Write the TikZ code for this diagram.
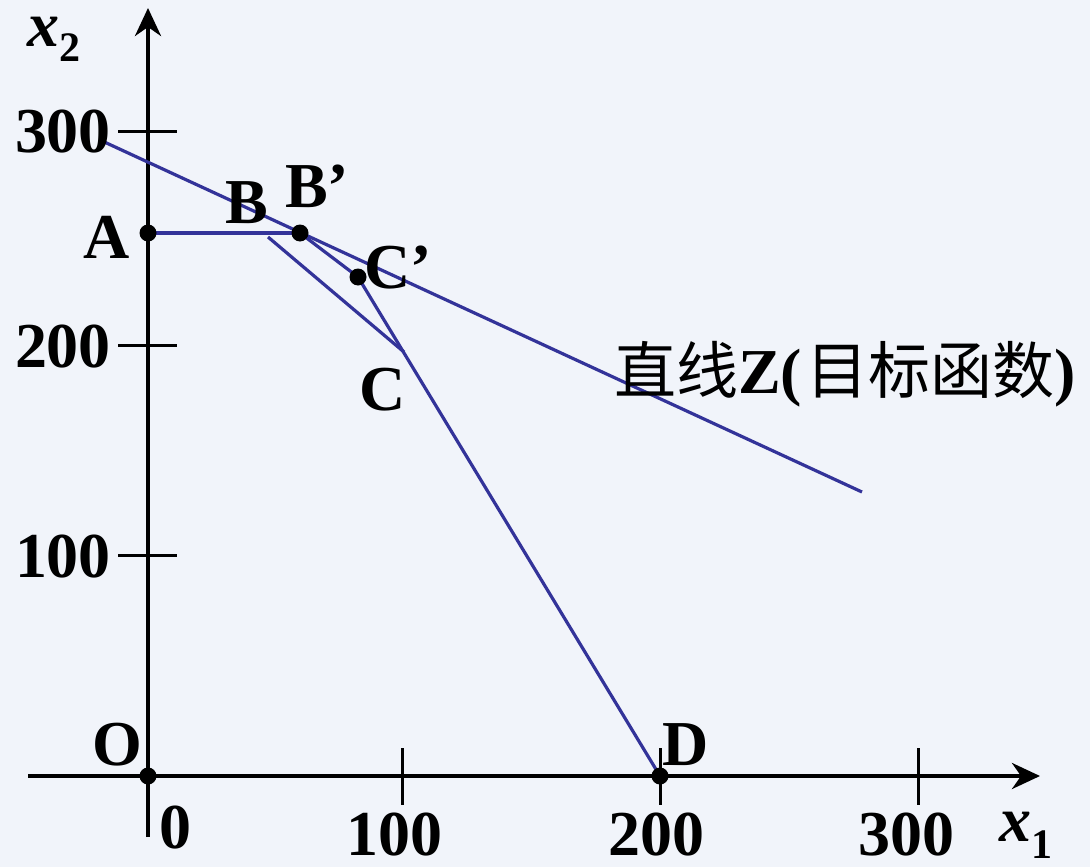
\documentclass[tikz,border=0pt]{standalone}
\usepackage{fontspec}
\setmainfont{Liberation Serif}
\newfontfamily\cjk{Noto Sans CJK SC}
\usetikzlibrary{arrows.meta}
\definecolor{bg}{RGB}{241,244,250}
\definecolor{lineblue}{RGB}{51,51,153}
\begin{document}
\begin{tikzpicture}[x=1pt,y=-1pt,
  lbl/.style={font=\fontsize{64}{64}\selectfont\bfseries, inner sep=0pt, anchor=base},
  axisline/.style={line width=4pt, -{Stealth[length=28pt,width=26pt,inset=9pt]}},
  tickline/.style={line width=3pt},
  bl/.style={line width=3.2pt, draw=lineblue},
  dot/.style={circle, fill=black, inner sep=0pt, minimum size=17pt}]
\fill[bg] (0,0) rectangle (1090,867);
\useasboundingbox (0,0) rectangle (1090,867);
% axes
\coordinate (xs) at (28,776);
\coordinate (xe) at (1040,776);
\coordinate (ys) at (148,837);
\coordinate (ye) at (148,8);
\draw[axisline] (xs) -- (xe);
\draw[axisline] (ys) -- (ye);
% ticks
\coordinate (t300a) at (118,131); \coordinate (t300b) at (177,131);
\coordinate (t200a) at (118,345); \coordinate (t200b) at (177,345);
\coordinate (t100a) at (118,555); \coordinate (t100b) at (177,555);
\coordinate (u100a) at (402,748); \coordinate (u100b) at (402,805);
\coordinate (u200a) at (660,748); \coordinate (u200b) at (660,805);
\coordinate (u300a) at (918,748); \coordinate (u300b) at (918,805);
\draw[tickline] (t300a) -- (t300b);
\draw[tickline] (t200a) -- (t200b);
\draw[tickline] (t100a) -- (t100b);
\draw[tickline] (u100a) -- (u100b);
\draw[tickline] (u200a) -- (u200b);
\draw[tickline] (u300a) -- (u300b);
% points
\coordinate (A) at (148,233);
\coordinate (Bp) at (300,233);
\coordinate (Cp) at (358,277);
\coordinate (C) at (404,352);
\coordinate (Bs) at (268,237);
\coordinate (D) at (660,776);
\coordinate (O) at (148,776);
\coordinate (Zs) at (100,140);
\coordinate (Ze) at (862,492);
% blue lines
\draw[bl] (Zs) -- (Ze);
\draw[bl] (A) -- (Bp);
\draw[bl] (Bp) -- (Cp) -- (D);
\draw[bl] (Bs) -- (C);
% dots
\node[dot] (dA) at (A) {};
\node[dot] (dBp) at (Bp) {};
\node[dot] (dCp) at (Cp) {};
\node[dot] (dO) at (O) {};
\node[dot] (dD) at (D) {};
% labels
\node[lbl] (l300) at (63,152) {300};
\node[lbl] (l200) at (63,367) {200};
\node[lbl] (l100) at (63,577) {100};
\node[lbl] (lA) at (107,258) {A};
\node[lbl] (lB) at (247,223) {B};
\node[lbl] (lBp) at (317,207) {B’};
\node[lbl] (lCp) at (398,288) {C’};
\node[lbl] (lC) at (383,410) {C};
\node[lbl] (lO) at (117,765) {O};
\node[lbl] (lD) at (686,765) {D};
\node[lbl] (n0) at (175,848) {0};
\node[lbl] (n100) at (394,855) {100};
\node[lbl] (n200) at (656,855) {200};
\node[lbl] (n300) at (906,855) {300};
\node[lbl, anchor=base west] (x2) at (27,47) {\itshape x\raisebox{-15pt}{\fontsize{42}{42}\selectfont\upshape 2}};
\node[lbl, anchor=base west] (x1) at (999,841) {\itshape x\raisebox{-17pt}{\fontsize{42}{42}\selectfont\upshape 1}};
\node[lbl, anchor=base west] (zl) at (614,393) {{\cjk\mdseries\fontsize{62}{62}\selectfont 直线}Z(\hspace{4pt}{\cjk\mdseries\fontsize{62}{62}\selectfont 目标函数})};
\end{tikzpicture}
\end{document}
